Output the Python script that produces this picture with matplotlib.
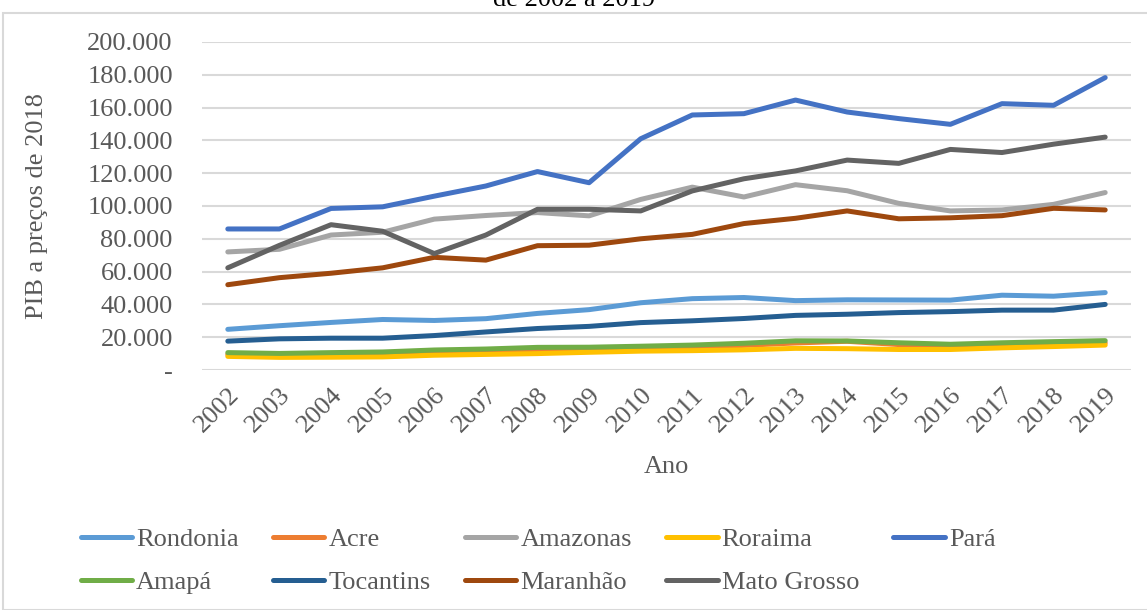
import matplotlib.pyplot as plt
from matplotlib.patches import Rectangle

anos = list(range(2002, 2020))

rondonia = [24800, 27000, 29000, 30800, 30200, 31300, 34500, 36800, 41000, 43500, 44200, 42300, 42800, 42700, 42600, 45600, 45000, 47200]
acre = [9500, 9000, 9300, 9500, 10500, 11000, 12000, 12300, 13000, 13500, 15000, 16500, 17500, 15500, 14500, 15000, 15500, 16500]
amazonas = [72000, 73600, 82300, 84000, 92000, 94200, 96000, 94000, 104000, 111500, 105500, 113000, 109300, 101600, 97000, 97600, 101000, 108200]
roraima = [8300, 7700, 7800, 8000, 9000, 9500, 10000, 10800, 11500, 11800, 12300, 13200, 13000, 12500, 12500, 13500, 14300, 15200]
para = [86000, 86000, 98500, 99500, 106000, 112200, 121000, 114200, 141000, 155500, 156300, 164600, 157300, 153300, 149800, 162400, 161400, 178300]
amapa = [10600, 10100, 10600, 11000, 12200, 12800, 13800, 13900, 14500, 15200, 16300, 17800, 17700, 16600, 15700, 16600, 17300, 17900]
tocantins = [17600, 19000, 19400, 19400, 21000, 23200, 25300, 26600, 28900, 30000, 31400, 33300, 34000, 35000, 35600, 36500, 36500, 40000]
maranhao = [52000, 56300, 59000, 62300, 68700, 67000, 75800, 76100, 80000, 82700, 89300, 92500, 97000, 92200, 92800, 94100, 98600, 97600]
mato_grosso = [62300, 76000, 88600, 84600, 71000, 82300, 98000, 98000, 97000, 109200, 116600, 121400, 128000, 126000, 134500, 132600, 137700, 142000]

series = [
    ("Rondonia", rondonia, "#5B9BD5"),
    ("Acre", acre, "#ED7D31"),
    ("Amazonas", amazonas, "#A5A5A5"),
    ("Roraima", roraima, "#FFC000"),
    ("Pará", para, "#4472C4"),
    ("Amapá", amapa, "#70AD47"),
    ("Tocantins", tocantins, "#255E91"),
    ("Maranhão", maranhao, "#9E480E"),
    ("Mato Grosso", mato_grosso, "#636363"),
]

plt.rcParams["font.family"] = ["Liberation Serif", "DejaVu Serif"]
cinza = "#595959"
fs = 19

fig = plt.figure(figsize=(11.47, 6.10), dpi=100)
ax = fig.add_axes([202 / 1147, 1 - 370 / 610, 929 / 1147, 328 / 610])

x = list(range(len(anos)))
linhas = {}
for nome, valores, cor in series:
    (ln,) = ax.plot(x, valores, color=cor, linewidth=3.6, label=nome,
                    solid_capstyle="round", solid_joinstyle="round")
    linhas[nome] = ln

ax.set_xlim(-0.5, len(anos) - 0.5)
ax.set_ylim(0, 200000)
yt = list(range(0, 200001, 20000))
ax.set_yticks(yt)
ax.set_yticklabels(["-" if v == 0 else f"{v:,}".replace(",", ".") for v in yt])
ax.set_xticks(x)
ax.set_xticklabels([str(a) for a in anos], rotation=45, ha="right",
                   rotation_mode="anchor")
ax.tick_params(axis="both", length=0, labelsize=fs, labelcolor=cinza)
ax.tick_params(axis="y", pad=21)
ax.tick_params(axis="x", pad=10)
ax.grid(axis="y", color="#D9D9D9", linewidth=1.5)
ax.set_axisbelow(True)
for s in ax.spines.values():
    s.set_visible(False)

ax.set_ylabel("PIB a preços de 2018", fontsize=fs, color=cinza)
ax.yaxis.set_label_coords(-0.166, 0.5)
ax.set_xlabel("Ano", fontsize=fs, color=cinza, va="top")
ax.xaxis.set_label_coords(0.5, -0.262)

# titulo cortado no topo, como no original
fig.text(574 / 1147, 1 - 6 / 610, "de 2002 a 2019", ha="center", va="baseline",
         fontsize=fs)
fig.patches.append(Rectangle((3 / 1147, 0), 1.2, 1 - 13 / 610, transform=fig.transFigure,
                             fill=False, edgecolor="#D9D9D9", linewidth=1.5))

ordem = ["Rondonia", "Amapá", "Acre", "Tocantins", "Amazonas", "Maranhão",
         "Roraima", "Mato Grosso", "Pará"]
fig.legend([linhas[n] for n in ordem], ordem, ncol=5, loc="center",
           bbox_to_anchor=(538 / 1147, 1 - 561 / 610), frameon=False,
           fontsize=fs, labelcolor=cinza, handlelength=1.95, columnspacing=1.3,
           handletextpad=0.15, labelspacing=0.72)

fig.savefig("out.png", dpi=100)
